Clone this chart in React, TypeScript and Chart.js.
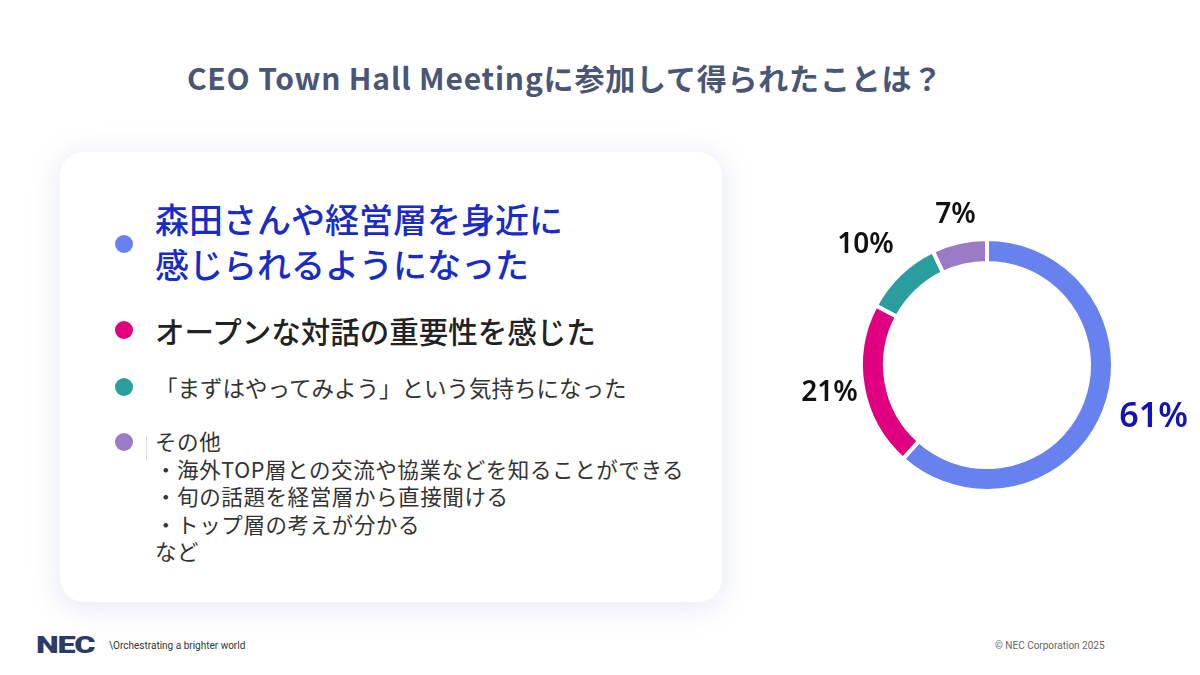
import React, { useEffect, useRef } from "react";
import { Chart, registerables } from "chart.js";

Chart.register(...registerables);

const title = "CEO Town Hall Meetingに参加して得られたことは？";
const categories = [
  "森田さんや経営層を身近に感じられるようになった",
  "オープンな対話の重要性を感じた",
  "「まずはやってみよう」という気持ちになった",
  "その他",
];
const values = [61, 21, 10, 7];
const valueLabels = ["61%", "21%", "10%", "7%"];
const sliceColors = ["#6781EE", "#E0007F", "#2A9D9F", "#9B7BC5"];
const labelColors = ["#1414B4", "#111111", "#111111", "#111111"];
const otherDetails = [
  "・海外TOP層との交流や協業などを知ることができる",
  "・旬の話題を経営層から直接聞ける",
  "・トップ層の考えが分かる",
  "など",
];

const JP = '"Noto Sans CJK JP", "Noto Sans", sans-serif';

// label placement tweaks (pixels) relative to the arc-based anchor
const labelNudge = [
  [6, -9],
  [6, -1],
  [-7, 0],
  [5, 12],
];

const labelPlugin = {
  id: "sliceLabels",
  afterDatasetsDraw(chart: any) {
    const ctx = chart.ctx;
    const meta = chart.getDatasetMeta(0);
    meta.data.forEach((arc: any, i: number) => {
      const p = arc.getProps(["x", "y", "startAngle", "endAngle", "outerRadius"], true);
      const mid = (p.startAngle + p.endAngle) / 2;
      const r = p.outerRadius + (i === 0 ? 46 : 40);
      const x = p.x + Math.cos(mid) * r + labelNudge[i][0];
      const y = p.y + Math.sin(mid) * r + labelNudge[i][1];
      ctx.save();
      ctx.fillStyle = labelColors[i];
      ctx.font = `600 ${i === 0 ? 34 : 28}px "Noto Sans", "Open Sans", sans-serif`;
      ctx.textAlign = "center";
      ctx.textBaseline = "middle";
      ctx.fillText(valueLabels[i], x, y);
      ctx.restore();
    });
  },
};

function Donut() {
  const ref = useRef<HTMLCanvasElement>(null);
  useEffect(() => {
    if (!ref.current) return;
    const chart = new Chart(ref.current, {
      type: "doughnut",
      data: {
        labels: categories,
        datasets: [
          {
            data: values,
            backgroundColor: sliceColors,
            borderColor: "#ffffff",
            borderWidth: 4,
            hoverOffset: 0,
          },
        ],
      },
      options: {
        animation: false,
        responsive: false,
        cutout: "81%",
        layout: { padding: { left: 79, right: 85, top: 47, bottom: 27 } },
        plugins: { legend: { display: false }, tooltip: { enabled: false } },
      },
      plugins: [labelPlugin],
    });
    return () => chart.destroy();
  }, []);
  return (
    <canvas
      ref={ref}
      width={420}
      height={330}
      style={{ position: "absolute", left: 780, top: 190, width: 420, height: 330 }}
    />
  );
}

const bullet = (color: string, top: number) => (
  <div
    style={{
      position: "absolute",
      left: 115,
      top: top - 9,
      width: 18,
      height: 18,
      borderRadius: "50%",
      background: color,
    }}
  />
);

export default function App() {
  useEffect(() => {
    document.body.style.margin = "0";
  }, []);
  return (
    <div
      style={{
        position: "relative",
        width: 1200,
        height: 675,
        background: "#ffffff",
        overflow: "hidden",
        fontFamily: JP,
      }}
    >
      <div
        style={{
          position: "absolute",
          left: 0,
          width: 1130,
          top: 55,
          textAlign: "center",
          fontSize: 30,
          fontWeight: 700,
          color: "#4A5676",
          letterSpacing: 0.8,
          lineHeight: "44px",
        }}
      >
        {title}
      </div>

      <div
        style={{
          position: "absolute",
          left: 60,
          top: 152,
          width: 662,
          height: 450,
          borderRadius: 24,
          background: "#ffffff",
          boxShadow: "0 4px 24px 6px rgba(150,160,230,0.18)",
        }}
      />

      {bullet(sliceColors[0], 244)}
      <div
        style={{
          position: "absolute",
          left: 155,
          top: 196,
          fontSize: 34,
          lineHeight: "45px",
          fontWeight: 500,
          color: "#1A2CC6",
        }}
      >
        <div>森田さんや経営層を身近に</div>
        <div>感じられるようになった</div>
      </div>

      {bullet(sliceColors[1], 330)}
      <div
        style={{
          position: "absolute",
          left: 155,
          top: 310,
          fontSize: 29.5,
          lineHeight: "40px",
          fontWeight: 500,
          color: "#222222",
        }}
      >
        {categories[1]}
      </div>

      {bullet(sliceColors[2], 387)}
      <div
        style={{
          position: "absolute",
          left: 155,
          top: 372,
          fontSize: 22.5,
          lineHeight: "30px",
          color: "#333333",
        }}
      >
        {categories[2]}
      </div>

      {bullet(sliceColors[3], 442)}
      <div
        style={{ position: "absolute", left: 146, top: 436, width: 1, height: 24, background: "#dddddd" }}
      />
      <div
        style={{
          position: "absolute",
          left: 155,
          top: 427,
          fontSize: 21.5,
          lineHeight: "27.5px",
          letterSpacing: 0.6,
          color: "#333333",
        }}
      >
        <div>{categories[3]}</div>
        {otherDetails.map((t) => (
          <div key={t}>{t}</div>
        ))}
      </div>

      <Donut />

      <div
        style={{
          position: "absolute",
          left: 36,
          top: 631,
          fontFamily: '"Roboto", sans-serif',
          fontWeight: 900,
          fontSize: 24,
          color: "#2C3A66",
          letterSpacing: -1,
          transform: "scaleX(1.35)",
          transformOrigin: "left",
        }}
      >
        NEC
      </div>
      <div
        style={{
          position: "absolute",
          left: 109,
          top: 640,
          fontFamily: '"Roboto", sans-serif',
          fontSize: 10,
          color: "#333333",
        }}
      >
        \Orchestrating a brighter world
      </div>
      <div
        style={{
          position: "absolute",
          left: 995,
          top: 640,
          fontFamily: '"Roboto", sans-serif',
          fontSize: 10,
          color: "#666666",
        }}
      >
        © NEC Corporation 2025
      </div>
    </div>
  );
}
